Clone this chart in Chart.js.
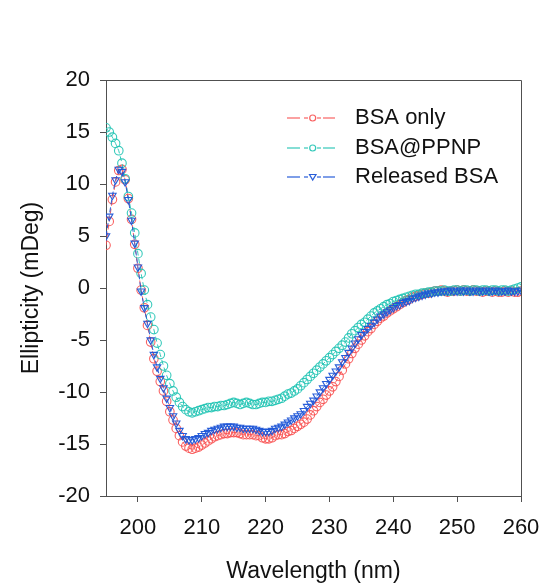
<!DOCTYPE html>
<html>
<head>
<meta charset="utf-8">
<script src="https://cdn.jsdelivr.net/npm/chart.js@4.4.1/dist/chart.umd.min.js"></script>
<style>
  html, body { margin: 0; padding: 0; background: #fff; }
  #wrap { width: 547px; height: 586px; }
</style>
</head>
<body>
<div id="wrap"><canvas id="cdChart" width="547" height="586"></canvas></div>
<script>
// wavelength grid (nm), 0.5 nm steps from 195 to 260
var wavelengths = [];
for (var w = 195; w <= 260; w += 0.5) { wavelengths.push(w); }

var seriesNames = ['BSA only', 'BSA@PPNP', 'Released BSA'];

var bsaOnly = [
    4.1, 6.4, 8.5, 10.2, 11.3, 11.4, 10.4, 8.6, 6.6, 4.2,
    1.9, -0.2, -1.9, -3.6, -5.2, -6.8, -8.0, -9.0, -9.9, -10.9,
    -11.9, -12.7, -13.5, -14.2, -14.8, -15.2, -15.4, -15.5, -15.4, -15.3,
    -15.1, -14.9, -14.7, -14.5, -14.3, -14.2, -14.1, -14.0, -14.0, -13.9,
    -13.9, -13.9, -14.0, -14.1, -14.1, -14.1, -14.1, -14.2, -14.2, -14.4,
    -14.5, -14.5, -14.4, -14.2, -14.1, -14.1, -14.0, -13.8, -13.7, -13.5,
    -13.3, -13.1, -12.9, -12.6, -12.2, -11.8, -11.4, -11.0, -10.7, -10.3,
    -9.9, -9.5, -9.0, -8.5, -7.9, -7.3, -6.8, -6.3, -5.8, -5.4,
    -5.0, -4.6, -4.2, -3.9, -3.5, -3.2, -2.9, -2.7, -2.4, -2.2,
    -2.0, -1.8, -1.6, -1.4, -1.2, -1.1, -0.9, -0.8, -0.7, -0.6,
    -0.5, -0.5, -0.4, -0.3, -0.3, -0.2, -0.3, -0.4, -0.3, -0.3,
    -0.2, -0.3, -0.2, -0.3, -0.3, -0.2, -0.3, -0.3, -0.4, -0.3,
    -0.3, -0.4, -0.3, -0.4, -0.4, -0.3, -0.4, -0.3, -0.4, -0.4,
    -0.3
];

var bsaPPNP = [
    15.4, 15.0, 14.5, 13.9, 13.2, 12.0, 10.5, 8.8, 7.2, 5.3,
    3.3, 1.4, -0.2, -1.6, -2.8, -4.0, -5.3, -6.4, -7.5, -8.4,
    -9.2, -9.9, -10.5, -11.0, -11.4, -11.7, -11.9, -12.0, -11.9, -11.8,
    -11.7, -11.6, -11.5, -11.5, -11.4, -11.4, -11.3, -11.3, -11.2, -11.1,
    -11.0, -11.1, -11.2, -11.1, -11.0, -11.1, -11.2, -11.2, -11.1, -11.0,
    -11.0, -10.9, -10.9, -10.8, -10.7, -10.6, -10.4, -10.2, -10.1, -9.9,
    -9.7, -9.4, -9.1, -8.8, -8.5, -8.2, -7.9, -7.6, -7.3, -7.0,
    -6.7, -6.4, -6.1, -5.8, -5.5, -5.2, -4.8, -4.4, -4.1, -3.8,
    -3.5, -3.3, -3.0, -2.7, -2.4, -2.2, -2.0, -1.8, -1.6, -1.5,
    -1.3, -1.2, -1.1, -1.0, -0.9, -0.8, -0.7, -0.6, -0.6, -0.5,
    -0.5, -0.4, -0.4, -0.3, -0.3, -0.3, -0.2, -0.3, -0.3, -0.2,
    -0.2, -0.3, -0.2, -0.2, -0.3, -0.2, -0.2, -0.3, -0.2, -0.2,
    -0.3, -0.2, -0.2, -0.3, -0.2, -0.2, -0.3, -0.2, -0.1, 0.0,
    0.1
];

var releasedBSA = [
    5.0, 6.9, 8.9, 10.4, 11.4, 11.2, 10.2, 8.5, 6.5, 4.3,
    2.0, -0.3, -1.9, -3.4, -5.0, -6.4, -7.6, -8.7, -9.6, -10.6,
    -11.5, -12.3, -13.0, -13.7, -14.2, -14.5, -14.6, -14.6, -14.5, -14.4,
    -14.2, -14.0, -13.9, -13.7, -13.6, -13.5, -13.4, -13.3, -13.3, -13.3,
    -13.3, -13.4, -13.4, -13.5, -13.5, -13.5, -13.5, -13.6, -13.7, -13.8,
    -13.8, -13.8, -13.7, -13.5, -13.4, -13.3, -13.1, -12.9, -12.7, -12.5,
    -12.3, -12.1, -11.8, -11.4, -11.1, -10.8, -10.4, -10.0, -9.6, -9.2,
    -8.8, -8.4, -8.0, -7.6, -7.1, -6.7, -6.2, -5.8, -5.3, -4.9,
    -4.5, -4.2, -3.9, -3.6, -3.3, -3.0, -2.7, -2.5, -2.3, -2.1,
    -1.9, -1.7, -1.6, -1.4, -1.3, -1.2, -1.0, -0.9, -0.8, -0.7,
    -0.6, -0.5, -0.5, -0.4, -0.4, -0.3, -0.3, -0.3, -0.2, -0.3,
    -0.3, -0.2, -0.3, -0.2, -0.3, -0.3, -0.2, -0.3, -0.3, -0.2,
    -0.3, -0.3, -0.2, -0.3, -0.3, -0.3, -0.2, -0.3, -0.3, -0.3,
    -0.2
];

var xTicks = [200, 210, 220, 230, 240, 250, 260];
var yTicks = [-20, -15, -10, -5, 0, 5, 10, 15, 20];

var colors = ['rgba(248, 80, 80, 0.9)', 'rgba(30, 195, 178, 0.9)', 'rgba(30, 85, 215, 0.95)'];
var axisColor = '#505050';
var fontFamily = '"Liberation Sans", Arial, sans-serif';

function toPoints(values) {
    return values.map(function (v, i) { return { x: wavelengths[i], y: v }; });
}

// box frame (top + right) and the dashed-line legend
var framePlugin = {
    id: 'framePlugin',
    afterDraw: function (chart) {
        var ctx = chart.ctx;
        var a = chart.chartArea;
        ctx.save();
        ctx.strokeStyle = axisColor;
        ctx.lineWidth = 1;
        ctx.beginPath();
        ctx.moveTo(a.left, Math.round(a.top) + 0.5);
        ctx.lineTo(Math.round(a.right) + 0.5, Math.round(a.top) + 0.5);
        ctx.lineTo(Math.round(a.right) + 0.5, a.bottom);
        ctx.stroke();
        // x axis line runs a little past the y axis
        ctx.beginPath();
        ctx.moveTo(a.left - 4, Math.round(a.bottom) + 0.5);
        ctx.lineTo(a.left, Math.round(a.bottom) + 0.5);
        ctx.stroke();

        // legend
        var rows = [118, 148, 177];
        ctx.font = '22px ' + fontFamily;
        ctx.textBaseline = 'middle';
        ctx.textAlign = 'left';
        chart.data.datasets.forEach(function (ds, i) {
            var y = rows[i];
            ctx.strokeStyle = ds.borderColor;
            ctx.lineWidth = 1.2;
            [[287, 300], [304, 308], [317, 321], [323, 335]].forEach(function (seg) {
                ctx.beginPath();
                ctx.moveTo(seg[0], y);
                ctx.lineTo(seg[1], y);
                ctx.stroke();
            });
            ctx.beginPath();
            if (ds.pointStyle === 'triangle') {
                ctx.moveTo(309.5, y - 2.5);
                ctx.lineTo(316, y - 2.5);
                ctx.lineTo(312.7, y + 3);
                ctx.closePath();
            } else {
                ctx.arc(312.7, y, 3, 0, Math.PI * 2);
            }
            ctx.stroke();
            ctx.fillStyle = '#111';
            ctx.fillText(ds.label, 355, y);
        });
        ctx.restore();
    }
};

var ctx = document.getElementById('cdChart').getContext('2d');
var chart = new Chart(ctx, {
    type: 'scatter',
    data: {
        datasets: [{
            label: seriesNames[0],
            data: toPoints(bsaOnly),
            borderColor: colors[0],
            backgroundColor: 'rgba(0,0,0,0)',
            pointStyle: 'circle',
            pointRadius: 4.3,
            pointBorderWidth: 1.1,
            showLine: true,
            borderWidth: 1,
            borderDash: [5, 3],
            order: 3
        },
        {
            label: seriesNames[1],
            data: toPoints(bsaPPNP),
            borderColor: colors[1],
            backgroundColor: 'rgba(0,0,0,0)',
            pointStyle: 'circle',
            pointRadius: 4.3,
            pointBorderWidth: 1.1,
            showLine: true,
            borderWidth: 1,
            borderDash: [5, 3],
            order: 2
        },
        {
            label: seriesNames[2],
            data: toPoints(releasedBSA),
            borderColor: colors[2],
            backgroundColor: 'rgba(0,0,0,0)',
            pointStyle: 'triangle',
            rotation: 180,
            pointRadius: 4.3,
            pointBorderWidth: 1.1,
            showLine: true,
            borderWidth: 1,
            borderDash: [5, 3],
            order: 1
        }]
    },
    options: {
        responsive: false,
        animation: false,
        layout: {
            padding: { left: 0, top: 80, right: 26, bottom: 0 }
        },
        scales: {
            x: {
                type: 'linear',
                min: 195,
                max: 260,
                afterBuildTicks: function (scale) {
                    scale.ticks = xTicks.map(function (v) { return { value: v }; });
                },
                afterFit: function (scale) {
                    scale.height = 90;
                    scale.paddingLeft = 0;
                    scale.paddingRight = 0;
                },
                border: { display: true, color: axisColor, width: 1 },
                grid: { drawOnChartArea: false, drawTicks: true, tickLength: 6, color: axisColor, lineWidth: 1 },
                ticks: { color: '#111', font: { size: 22, family: fontFamily }, padding: 13, maxRotation: 0 },
                title: {
                    display: true,
                    text: 'Wavelength (nm)',
                    color: '#111',
                    font: { size: 23, family: fontFamily },
                    padding: { top: 1, bottom: 1 }
                }
            },
            y: {
                min: -20,
                max: 20,
                afterBuildTicks: function (scale) {
                    scale.ticks = yTicks.map(function (v) { return { value: v }; });
                },
                afterFit: function (scale) {
                    scale.width = 106;
                    scale.paddingTop = 0;
                    scale.paddingBottom = 0;
                },
                border: { display: true, color: axisColor, width: 1 },
                grid: { drawOnChartArea: false, drawTicks: true, tickLength: 6, color: axisColor, lineWidth: 1 },
                ticks: { color: '#111', font: { size: 22, family: fontFamily }, padding: 10 },
                title: {
                    display: true,
                    text: 'Ellipticity (mDeg)',
                    color: '#111',
                    font: { size: 23, family: fontFamily },
                    padding: { top: 18, bottom: 18 }
                }
            }
        },
        plugins: {
            legend: { display: false },
            tooltip: { enabled: false }
        }
    },
    plugins: [framePlugin]
});
</script>
</body>
</html>
